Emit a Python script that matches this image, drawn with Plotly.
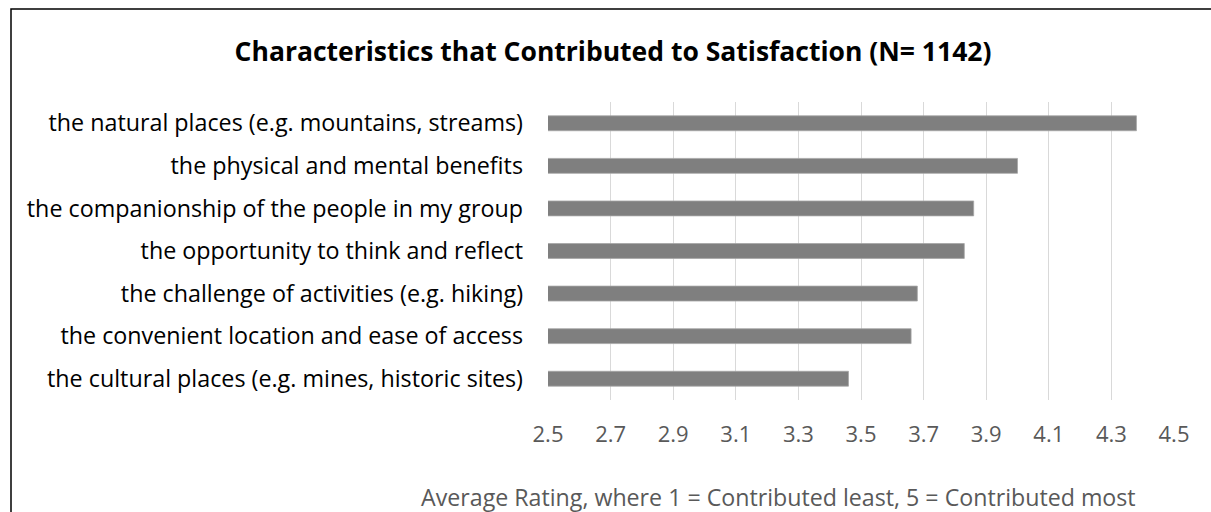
import plotly.graph_objects as go

# Survey characteristics (top to bottom) and their average ratings
characteristics = [
    "the natural places (e.g. mountains, streams)",
    "the physical and mental benefits",
    "the companionship of the people in my group",
    "the opportunity to think and reflect",
    "the challenge of activities (e.g. hiking)",
    "the convenient location and ease of access",
    "the cultural places (e.g. mines, historic sites)",
]
avg_rating = [4.38, 4.00, 3.86, 3.83, 3.68, 3.66, 3.46]

tick_values = [2.5, 2.7, 2.9, 3.1, 3.3, 3.5, 3.7, 3.9, 4.1, 4.3, 4.5]
tick_labels = ["2.5", "2.7", "2.9", "3.1", "3.3", "3.5", "3.7", "3.9", "4.1", "4.3", "4.5"]

FONT = "Open Sans"
W, H = 1211, 512
L, R, T, B = 548, 37, 102, 112
plot_w = W - L - R
plot_h = H - T - B

fig = go.Figure(
    go.Bar(
        x=avg_rating,
        y=characteristics,
        orientation="h",
        base=0,
        marker=dict(color="#7f7f7f", line=dict(color="#a6a6a6", width=0.8)),
        width=0.35,
        hoverinfo="x+y",
    )
)

fig.update_layout(
    width=W,
    height=H,
    margin=dict(l=L, r=R, t=T, b=B, autoexpand=False),
    paper_bgcolor="white",
    plot_bgcolor="white",
    showlegend=False,
    font=dict(family=FONT, size=23, color="#000000"),
    title=dict(
        text="<b>Characteristics that Contributed to Satisfaction (N= 1142)</b>",
        font=dict(family=FONT, size=26.5, color="#000000"),
        xref="container",
        yref="container",
        x=613 / W,
        y=1 - 52 / H,
        xanchor="center",
        yanchor="middle",
    ),
)

fig.update_xaxes(
    range=[2.5, 4.5],
    tickvals=tick_values,
    ticktext=tick_labels,
    showgrid=True,
    gridcolor="#d9d9d9",
    gridwidth=1.3,
    zeroline=False,
    showline=False,
    ticks="",
    ticklabelstandoff=19,
    tickfont=dict(family=FONT, size=22, color="#595959"),
)

fig.update_yaxes(
    categoryorder="array",
    categoryarray=characteristics[::-1],
    showgrid=False,
    zeroline=False,
    showline=False,
    ticks="",
    ticklabelstandoff=24,
    tickfont=dict(family=FONT, size=23.3, color="#000000"),
)

# Axis caption below the tick labels
fig.add_annotation(
    text="Average Rating, where 1 = Contributed least, 5 = Contributed most",
    xref="paper",
    yref="paper",
    x=(778 - L) / plot_w,
    y=(H - B - 497) / plot_h,
    xanchor="center",
    yanchor="middle",
    showarrow=False,
    font=dict(family=FONT, size=23.2, color="#595959"),
)

# Chart frame
fig.add_shape(
    type="rect",
    xref="paper",
    yref="paper",
    x0=(11 - L) / plot_w,
    x1=(W + 40 - L) / plot_w,
    y0=(H - B - (H + 40)) / plot_h,
    y1=(H - B - 9) / plot_h,
    line=dict(color="#000000", width=1.5),
    fillcolor="rgba(0,0,0,0)",
    layer="below",
)

fig.write_html("out.html")
